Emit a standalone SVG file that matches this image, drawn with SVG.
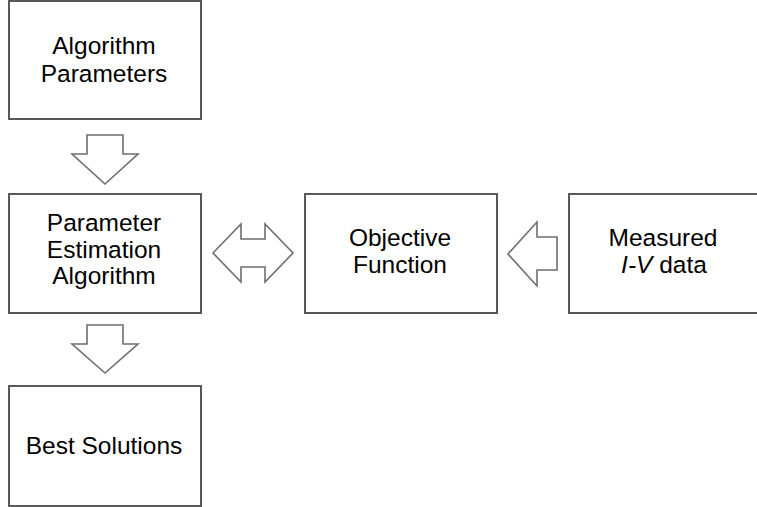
<svg xmlns="http://www.w3.org/2000/svg" width="757" height="507" viewBox="0 0 757 507">
<style>
.box{fill:#fff;stroke:#595959;stroke-width:2}
.arr{fill:#fff;stroke:#6e6e6e;stroke-width:1.6;stroke-linejoin:miter}
.t{font-family:"Liberation Sans",Arial,sans-serif;font-size:24.5px;fill:#000;text-anchor:middle}
</style>
<rect width="757" height="507" fill="#fff"/>
<g id="n1"><rect class="box" x="9" y="1" width="192" height="118"/>
<text class="t" x="104" y="54">Algorithm</text><text class="t" x="104" y="81.5">Parameters</text></g>
<g id="n2"><rect class="box" x="9" y="194" width="192" height="119"/>
<text class="t" x="104" y="231">Parameter</text><text class="t" x="104" y="257.7">Estimation</text><text class="t" x="104" y="284.3">Algorithm</text></g>
<g id="n3"><rect class="box" x="305" y="194" width="192" height="119"/>
<text class="t" x="400" y="246">Objective</text><text class="t" x="400" y="273.3">Function</text></g>
<g id="n4"><rect class="box" x="569" y="194" width="200" height="119"/>
<text class="t" x="663" y="246">Measured</text><text class="t" x="664" y="273.3"><tspan font-style="italic">I-V</tspan> data</text></g>
<g id="n5"><rect class="box" x="9" y="386" width="192" height="120"/>
<text class="t" x="104" y="454.3">Best Solutions</text></g>
<g id="connectors">
<polygon class="arr" points="87,135 123,135 123,154 138,154 105,184 72,154 87,154"/>
<polygon class="arr" points="87,325 123,325 123,344 138,344 105,373 72,344 87,344"/>
<polygon class="arr" points="213,253 241,224 241,239 265,239 265,224 293,253 265,282 265,267 241,267 241,282"/>
<polygon class="arr" points="508,254 537,222 537,237 557,237 557,270 537,270 537,286"/>
</g>
</svg>
